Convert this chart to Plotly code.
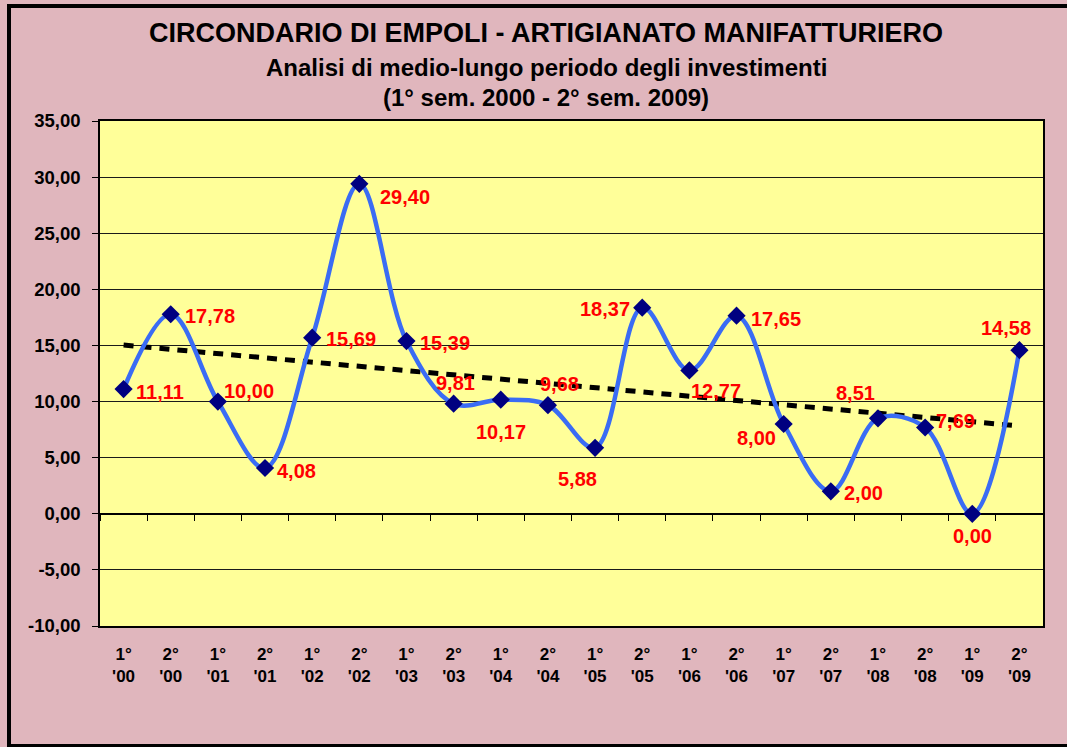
import numpy as np
import plotly.graph_objects as go

# ---- data ----
semesters = ["1°", "2°"] * 10
years = ["'00", "'00", "'01", "'01", "'02", "'02", "'03", "'03", "'04", "'04",
         "'05", "'05", "'06", "'06", "'07", "'07", "'08", "'08", "'09", "'09"]
categories = [f"{s}<br>{y}" for s, y in zip(semesters, years)]
values = [11.11, 17.78, 10.00, 4.08, 15.69, 29.40, 15.39, 9.81, 10.17, 9.68,
          5.88, 18.37, 12.77, 17.65, 8.00, 2.00, 8.51, 7.69, 0.00, 14.58]
y_ticks = [-10, -5, 0, 5, 10, 15, 20, 25, 30, 35]
title_lines = ["CIRCONDARIO DI EMPOLI - ARTIGIANATO MANIFATTURIERO",
               "Analisi di medio-lungo periodo degli investimenti",
               "(1° sem. 2000 - 2° sem. 2009)"]

# linear trend from data
idx = np.arange(len(values))
slope, intercept = np.polyfit(idx, values, 1)
trend = list(slope * idx + intercept)

def fmt(v):
    return f"{v:.2f}".replace(".", ",")

# ---- layout helpers ----
W, H = 1067, 747
L, R, T, B = 100, 1043, 121, 626
def px2x(px):
    return (px - L) / (R - L)
def py2y(py):
    return (B - py) / (B - T)

FONT = "Liberation Sans, Arial, sans-serif"

fig = go.Figure()

# invisible trace for zero-line tick axis
fig.add_trace(go.Scatter(x=categories, y=values, mode="none", xaxis="x2",
                         hoverinfo="skip", showlegend=False))

fig.add_trace(go.Scatter(
    x=categories, y=trend, mode="lines",
    line=dict(color="black", width=5, dash="10px,8px"),
    hoverinfo="skip", showlegend=False))

fig.add_trace(go.Scatter(
    x=categories, y=values, mode="lines+markers",
    line=dict(color="#3a6cf4", width=4.5, shape="spline", smoothing=1.0),
    marker=dict(symbol="diamond", size=14, color="#000080"),
    showlegend=False))

# data labels: (xanchor, xshift, yshift)
label_pos = [("left", 10, -3), ("left", 12, -2), ("left", 4, 11), ("left", 10, -3),
             ("left", 12, -1), ("left", 19, -13), ("left", 12, -2), ("center", 2, 21),
             ("center", 0, -32), ("center", 12, 21), ("center", -18, -31), ("right", -10, -1),
             ("left", 0, -21), ("left", 12, -3), ("right", -6, -14), ("left", 11, -2),
             ("center", -22, 25), ("left", 9, 6), ("center", 0, -22), ("center", -13, 22)]

annotations = []
for c, v, (xa, xs, ys) in zip(categories, values, label_pos):
    annotations.append(dict(
        x=c, y=v, xref="x", yref="y", text=fmt(v),
        showarrow=False, xanchor=xa, yanchor="middle", xshift=xs, yshift=ys,
        font=dict(family=FONT, size=20, color="#ff0000", weight="bold")))

title_specs = [(title_lines[0], 27, 33), (title_lines[1], 24, 68), (title_lines[2], 24, 98)]
for txt, sz, ypx in title_specs:
    annotations.append(dict(
        x=px2x(546), y=py2y(ypx), xref="paper", yref="paper", text=txt,
        showarrow=False, xanchor="center", yanchor="middle",
        font=dict(family=FONT, size=sz, color="black", weight="bold")))

shapes = [
    dict(type="rect", xref="paper", yref="paper",
         x0=px2x(7), x1=px2x(11), y0=py2y(747), y1=py2y(4),
         fillcolor="black", line=dict(width=0), layer="above"),
    dict(type="rect", xref="paper", yref="paper",
         x0=px2x(7), x1=px2x(1067), y0=py2y(8), y1=py2y(4),
         fillcolor="black", line=dict(width=0), layer="above"),
    dict(type="rect", xref="paper", yref="paper",
         x0=px2x(7), x1=px2x(1067), y0=py2y(747), y1=py2y(744),
         fillcolor="black", line=dict(width=0), layer="above"),
]

ymin, ymax = y_ticks[0], y_ticks[-1]
fig.update_layout(
    width=W, height=H,
    margin=dict(l=L, r=W - R, t=T, b=H - B, pad=0),
    paper_bgcolor="#e0b6bd",
    plot_bgcolor="#ffff99",
    font=dict(family=FONT, color="black"),
    annotations=annotations,
    shapes=shapes,
    xaxis=dict(
        type="category", categoryorder="array", categoryarray=categories,
        range=[-0.5, len(categories) - 0.5],
        showgrid=False, showline=True, linecolor="black", linewidth=1.5, mirror=True,
        ticks="", ticklabelstandoff=12,
        tickfont=dict(family=FONT, size=17, color="black", weight="bold"),
        zeroline=False),
    xaxis2=dict(
        type="category", categoryorder="array", categoryarray=categories,
        range=[-0.5, len(categories) - 0.5],
        overlaying="x", anchor="free", side="bottom",
        position=(0 - ymin) / (ymax - ymin),
        showgrid=False, showline=False, showticklabels=False,
        ticks="outside", ticklen=6, tickwidth=1.2, tickcolor="black",
        tickson="boundaries", zeroline=False),
    yaxis=dict(
        range=[ymin, ymax], tickmode="array", tickvals=y_ticks,
        ticktext=[fmt(v) for v in y_ticks],
        showgrid=True, gridcolor="#1a1a1a", gridwidth=1,
        zeroline=True, zerolinecolor="black", zerolinewidth=1.5,
        showline=True, linecolor="black", linewidth=1.5, mirror=True,
        ticks="outside", ticklen=6, tickcolor="black", ticklabelstandoff=8,
        tickfont=dict(family=FONT, size=18.5, color="black", weight="bold")),
    showlegend=False,
)

fig.write_html("out.html", config={"displayModeBar": False},
               post_script="document.body.style.margin='0';document.body.style.overflow='hidden';")
